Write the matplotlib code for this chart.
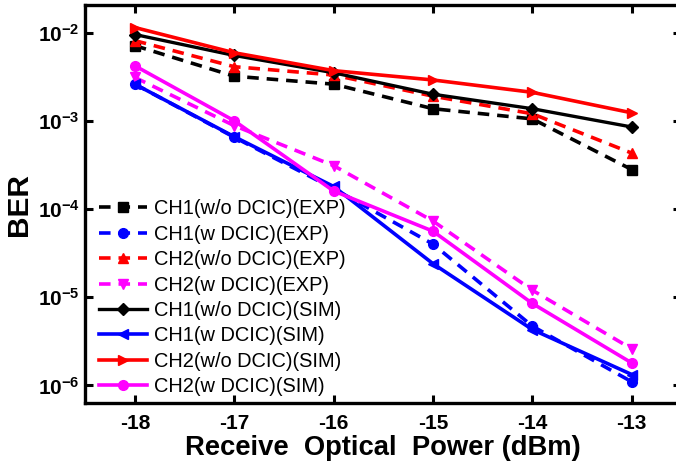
import numpy as np
import matplotlib
matplotlib.use('Agg')
from matplotlib import pyplot as plt
from matplotlib.ticker import FixedLocator, NullLocator

plt.rcParams['font.family'] = ['Liberation Sans', 'DejaVu Sans']
plt.rcParams['mathtext.fontset'] = 'custom'
plt.rcParams['mathtext.rm'] = 'Liberation Sans'
plt.rcParams['mathtext.bf'] = 'Liberation Sans:bold'
plt.rcParams['mathtext.default'] = 'bf'

power = [-18, -17, -16, -15, -14, -13]

ch1_wo_exp = [7.1e-3, 3.2e-3, 2.6e-3, 1.37e-3, 1.05e-3, 2.8e-4]
ch1_w_exp = [2.6e-3, 6.5e-4, 1.7e-4, 4.0e-5, 4.7e-6, 1.1e-6]
ch2_wo_exp = [8.1e-3, 4.1e-3, 3.3e-3, 1.9e-3, 1.2e-3, 4.3e-4]
ch2_w_exp = [3.1e-3, 8.8e-4, 3.1e-4, 7.3e-5, 1.2e-5, 2.6e-6]
ch1_wo_sim = [9.5e-3, 5.5e-3, 3.5e-3, 2.0e-3, 1.37e-3, 8.5e-4]
ch1_w_sim = [2.6e-3, 6.6e-4, 1.8e-4, 2.4e-5, 4.3e-6, 1.33e-6]
ch2_wo_sim = [1.14e-2, 5.9e-3, 3.7e-3, 2.9e-3, 2.1e-3, 1.23e-3]
ch2_w_sim = [4.2e-3, 1.0e-3, 1.6e-4, 5.6e-5, 8.5e-6, 1.8e-6]

labels = ['CH1(w/o DCIC)(EXP)', 'CH1(w DCIC)(EXP)', 'CH2(w/o DCIC)(EXP)', 'CH2(w DCIC)(EXP)',
          'CH1(w/o DCIC)(SIM)', 'CH1(w DCIC)(SIM)', 'CH2(w/o DCIC)(SIM)', 'CH2(w DCIC)(SIM)']

fig = plt.figure(figsize=(6.76, 4.72), dpi=100)
# right spine sits just outside the picture, like in the original
ax = fig.add_axes([0.126, 0.146, 0.882, 0.843])

dash = (3.2, 2.2)
ax.plot(power, ch1_wo_exp, color='black', ls='--', dashes=dash, lw=2.6, marker='s', ms=6.5, label=labels[0])
ax.plot(power, ch1_w_exp, color='#0000ff', ls='--', dashes=dash, lw=2.6, marker='o', ms=7, label=labels[1])
ax.plot(power, ch2_wo_exp, color='#ff0000', ls='--', dashes=dash, lw=2.6, marker='^', ms=7.5, label=labels[2])
ax.plot(power, ch2_w_exp, color='#ff00ff', ls='--', dashes=dash, lw=2.6, marker='v', ms=7.5, label=labels[3])
ax.plot(power, ch1_wo_sim, color='black', lw=2.4, marker='D', ms=6, label=labels[4])
ax.plot(power, ch1_w_sim, color='#0000ff', lw=2.6, marker='<', ms=7.5, label=labels[5])
ax.plot(power, ch2_wo_sim, color='#ff0000', lw=2.6, marker='>', ms=7.5, label=labels[6])
ax.plot(power, ch2_w_sim, color='#ff00ff', lw=2.6, marker='o', ms=7, label=labels[7])

ax.set_yscale('log')
ax.set_ylim(10 ** -6.2, 10 ** -1.69)
ax.set_xlim(-18.5, -12.5)
ax.yaxis.set_major_locator(FixedLocator([1e-6, 1e-5, 1e-4, 1e-3, 1e-2]))
ax.yaxis.set_minor_locator(NullLocator())
ax.set_yticklabels([r'$10^{-6}$', r'$10^{-5}$', r'$10^{-4}$', r'$10^{-3}$', r'$10^{-2}$'])
ax.set_xticks(power)
ax.set_xticklabels([str(p) for p in power])

for s in ax.spines.values():
    s.set_linewidth(2.4)
ax.tick_params(which='both', direction='in', top=True, right=True, width=2.2, length=6,
               labelsize=15)
ax.tick_params(axis='x', pad=8)
ax.tick_params(axis='y', pad=4)
for t in ax.get_xticklabels():
    t.set_fontweight('bold')

ax.set_xlabel('Receive  Optical  Power (dBm)', fontsize=19.7, fontweight='bold', labelpad=1)
ax.set_ylabel('BER', fontsize=21.5, fontweight='bold', labelpad=3)

ax.legend(loc='lower left', bbox_to_anchor=(0.0, -0.018), frameon=False, fontsize=14.4,
          handlelength=2.4, handletextpad=0.35, labelspacing=0.32, borderaxespad=0.3)

fig.savefig('out.png', dpi=100)
